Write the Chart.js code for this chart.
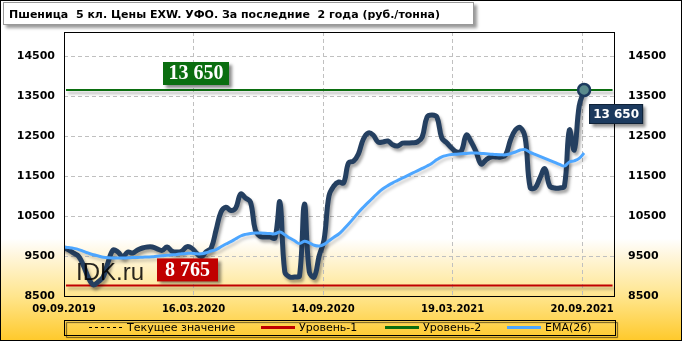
<!DOCTYPE html>
<html>
<head>
<meta charset="utf-8">
<script src="https://cdn.jsdelivr.net/npm/chart.js"></script>
<style>
  html, body { margin: 0; padding: 0; background: #fff; }
  #wrap { width: 682px; height: 341px; }
</style>
</head>
<body>
<div id="wrap"><canvas id="myChart" width="682" height="341"></canvas></div>
<script>
const chartTitle = "Пшеница  5 кл. Цены EXW. УФО. За последние  2 года (руб./тонна)";

// x axis: weeks since 09.09.2019
const dateTicks = [0, 26.4, 52.8, 79.2, 105.6];
const dateLabels = ["09.09.2019", "16.03.2020", "14.09.2020", "19.03.2021", "20.09.2021"];
const valueTicks = [8500, 9500, 10500, 11500, 12500, 13500, 14500];

// weekly price, rub/t
const price = [
  9700, 9650, 9570, 9490, 9250, 8950, 8775, 8860, 8980, 9350,
  9650, 9600, 9480, 9600, 9575, 9650, 9700, 9725, 9725, 9680,
  9640, 9725, 9620, 9600, 9620, 9730, 9700, 9570, 9480, 9610,
  9700, 10150, 10600, 10720, 10640, 10700, 11050, 10950, 10850, 10150,
  9990, 9975, 9975, 9950, 10850, 9100, 8975, 8975, 9000, 10800,
  9100, 8975, 9500, 9900, 11000, 11250, 11350, 11330, 11830, 11870,
  12050, 12420, 12575, 12525, 12350, 12350, 12375, 12280, 12250, 12320,
  12325, 12330, 12350, 12475, 12975, 13025, 12975, 12450, 12330, 12200,
  12100, 12130, 12525, 12350, 12100, 11800, 11900, 11975, 11975, 11975,
  12025, 12400, 12650, 12710, 12450, 11220, 11200, 11450, 11680, 11250,
  11200, 11200, 11250, 12650, 12150, 13250, 13650
];

// EMA(26)
const ema26 = [
  9725, 9710, 9690, 9660, 9615, 9570, 9530, 9500, 9470, 9455,
  9450, 9450, 9450, 9455, 9460, 9465, 9470, 9475, 9480, 9495,
  9505, 9520, 9530, 9540, 9555, 9565, 9570, 9555, 9555, 9580,
  9625, 9660, 9730, 9800, 9860, 9930, 10000, 10040, 10065, 10075,
  10075, 10070, 10060, 10055, 10100, 10030, 9950, 9880, 9810, 9870,
  9830, 9770, 9750, 9790, 9880, 9970, 10050, 10170, 10300, 10440,
  10590, 10720, 10840, 10960, 11080, 11180, 11260, 11330, 11390, 11450,
  11510, 11570, 11630, 11690, 11750, 11820, 11910, 11980, 12015, 12035,
  12045, 12055, 12065, 12075, 12075, 12065, 12055, 12045, 12035, 12030,
  12030, 12060, 12100, 12150, 12160, 12090, 12040, 11990, 11940, 11890,
  11840, 11790, 11750, 11850, 11880, 11940, 12075
];

const level1 = 8765;
const level2 = 13650;
const levelSpan = [0.4, 111.8];

const xMax = 112.3;
const yMin = 8500, yMax = 15100;

const lastIdx = price.length - 1;
const lastValue = price[lastIdx];

function fmt(v) {
  return String(v).replace(/\B(?=(\d{3})+(?!\d))/g, " ");
}

const bgPlugin = {
  id: "bg",
  beforeDraw(chart) {
    const ctx = chart.ctx;
    const h = chart.height;
    const g = ctx.createLinearGradient(0, 0, 0, h);
    g.addColorStop(0, "#ffffff");
    g.addColorStop(0.70, "#ffffff");
    g.addColorStop(0.75, "#fff6dc");
    g.addColorStop(0.87, "#ffe58c");
    g.addColorStop(1, "#ffc92a");
    ctx.save();
    ctx.fillStyle = g;
    ctx.fillRect(0, 0, chart.width, h);
    ctx.restore();
  }
};

const shadowPlugin = {
  id: "shadows",
  beforeDatasetDraw(chart, args) {
    const ds = chart.data.datasets[args.index];
    chart.ctx.save();
    if (ds.shadow) {
      chart.ctx.shadowColor = ds.shadow;
      chart.ctx.shadowOffsetX = 2;
      chart.ctx.shadowOffsetY = 3;
      chart.ctx.shadowBlur = 3;
    }
  },
  afterDatasetDraw(chart) {
    chart.ctx.restore();
  }
};

function box(ctx, x, y, w, h, fill, stroke, shadow) {
  ctx.save();
  if (shadow) {
    ctx.shadowColor = shadow;
    ctx.shadowOffsetX = 3;
    ctx.shadowOffsetY = 3;
    ctx.shadowBlur = 3;
  }
  ctx.fillStyle = fill;
  ctx.fillRect(x, y, w, h);
  ctx.restore();
  if (stroke) {
    ctx.strokeStyle = stroke;
    ctx.lineWidth = 1;
    ctx.strokeRect(x + 0.5, y + 0.5, w - 1, h - 1);
  }
}

const decorPlugin = {
  id: "decor",
  afterDatasetsDraw(chart) {
    const ctx = chart.ctx;
    const a = chart.chartArea;
    const ys = chart.scales.y;
    const xs = chart.scales.x;

    // plot frame
    ctx.save();
    ctx.strokeStyle = "#000";
    ctx.lineWidth = 1;
    ctx.strokeRect(Math.round(a.left) + 0.5, Math.round(a.top) + 0.5,
      Math.round(a.right - a.left) - 1, Math.round(a.bottom - a.top));
    ctx.restore();

    // watermark
    ctx.save();
    ctx.font = '24px "Liberation Sans"';
    ctx.fillStyle = "rgba(0,0,0,0.85)";
    ctx.textBaseline = "alphabetic";
    ctx.fillText("IDK.ru", 76, 280);
    ctx.restore();

    // level tags
    const y2 = ys.getPixelForValue(level2);
    box(ctx, 163, y2 - 28, 66, 23, "#0b6e10", null, "rgba(0,0,0,0.45)");
    const y1 = ys.getPixelForValue(level1);
    box(ctx, 157, y1 - 27, 61, 23, "#c00000", null, "rgba(0,0,0,0.45)");
    ctx.save();
    ctx.font = 'bold 20px "Liberation Serif"';
    ctx.fillStyle = "#fff";
    ctx.textAlign = "center";
    ctx.textBaseline = "middle";
    ctx.fillText(fmt(level2), 196, y2 - 16);
    ctx.fillText(fmt(level1), 187.5, y1 - 15);
    ctx.restore();

    // last value tag
    const px = xs.getPixelForValue(lastIdx);
    const py = ys.getPixelForValue(lastValue);
    box(ctx, px + 5, py + 14, 54, 20, "#1c3a5e", "#0f2238", "rgba(0,0,0,0.45)");
    ctx.save();
    ctx.font = 'bold 12px "DejaVu Sans"';
    ctx.fillStyle = "#fff";
    ctx.textAlign = "center";
    ctx.textBaseline = "middle";
    ctx.fillText(fmt(lastValue), px + 32, py + 24.5);
    ctx.restore();
  },
  afterDraw(chart) {
    const ctx = chart.ctx;
    // title
    box(ctx, 3, 2, 471, 23, "#fff", "#999", "rgba(0,0,0,0.4)");
    ctx.save();
    ctx.font = 'bold 11px "DejaVu Sans"';
    ctx.fillStyle = "#000";
    ctx.textBaseline = "alphabetic";
    ctx.fillText(chartTitle, 9, 18);
    ctx.restore();

    // legend
    const lx = 64, ly = 320, lw = 551, lh = 15;
    ctx.save();
    ctx.shadowColor = "rgba(0,0,0,0.6)";
    ctx.shadowOffsetX = 2;
    ctx.shadowOffsetY = 2;
    ctx.shadowBlur = 1;
    ctx.strokeStyle = "#000";
    ctx.lineWidth = 1;
    ctx.strokeRect(lx + 0.5, ly + 0.5, lw, lh);
    ctx.restore();

    const items = [
      { label: "Текущее значение", color: "#000", width: 1, dash: [3, 3], x: 89 },
      { label: "Уровень-1", color: "#c00000", width: 3, dash: [], x: 261 },
      { label: "Уровень-2", color: "#0b6e10", width: 3, dash: [], x: 385 },
      { label: "EMA(26)", color: "#4da6ff", width: 3, dash: [], x: 507 }
    ];
    const my = ly + 7.5;
    items.forEach(it => {
      ctx.save();
      ctx.strokeStyle = it.color;
      ctx.lineWidth = it.width;
      ctx.setLineDash(it.dash);
      ctx.beginPath();
      ctx.moveTo(it.x, my);
      ctx.lineTo(it.x + 34, my);
      ctx.stroke();
      ctx.restore();
      ctx.save();
      ctx.font = '11px "DejaVu Sans"';
      ctx.fillStyle = "#000";
      ctx.textBaseline = "middle";
      ctx.fillText(it.label, it.x + 38, my + 0.5);
      ctx.restore();
    });

    // outer border
    ctx.save();
    ctx.strokeStyle = "#000";
    ctx.lineWidth = 1;
    ctx.strokeRect(0.5, 0.5, chart.width - 1, chart.height - 1);
    ctx.restore();
  }
};

const tickFont = { family: "DejaVu Sans", size: 11, weight: "bold" };

const ctx = document.getElementById("myChart").getContext("2d");
new Chart(ctx, {
  type: "line",
  data: {
    datasets: [
      {
        label: "marker",
        data: [{ x: lastIdx, y: lastValue }],
        showLine: false,
        pointRadius: 6,
        pointBackgroundColor: "#5a8a8c",
        pointBorderColor: "#1c3a5e",
        pointBorderWidth: 2.5,
        order: 0
      },
      {
        label: "EMA(26)",
        data: ema26.map((v, i) => ({ x: i, y: v })),
        borderColor: "#4da6ff",
        borderWidth: 3,
        pointRadius: 0,
        tension: 0.4,
        shadow: "rgba(0,0,0,0.18)",
        order: 1
      },
      {
        label: "Текущее значение",
        data: price.map((v, i) => ({ x: i, y: v })),
        borderColor: "#243f60",
        borderWidth: 5,
        pointRadius: 0,
        tension: 0.4,
        borderJoinStyle: "round",
        borderCapStyle: "round",
        shadow: "rgba(0,0,0,0.35)",
        order: 2
      },
      {
        label: "Уровень-2",
        data: levelSpan.map(x => ({ x: x, y: level2 })),
        borderColor: "#0b6e10",
        borderWidth: 2,
        pointRadius: 0,
        shadow: "rgba(0,0,0,0.3)",
        order: 3
      },
      {
        label: "Уровень-1",
        data: levelSpan.map(x => ({ x: x, y: level1 })),
        borderColor: "#c00000",
        borderWidth: 2,
        pointRadius: 0,
        shadow: "rgba(0,0,0,0.3)",
        order: 3
      }
    ]
  },
  options: {
    responsive: false,
    animation: false,
    devicePixelRatio: 1,
    layout: { padding: { top: 32, left: 0, right: 0, bottom: 0 } },
    plugins: {
      legend: { display: false },
      title: { display: false },
      tooltip: { enabled: false }
    },
    scales: {
      x: {
        type: "linear",
        min: 0,
        max: xMax,
        afterFit(scale) { scale.height = 45; },
        afterBuildTicks(scale) { scale.ticks = dateTicks.map(v => ({ value: v })); },
        ticks: {
          font: { family: "DejaVu Sans", size: 10, weight: "bold" },
          color: "#000",
          padding: 7,
          maxRotation: 0,
          autoSkip: false,
          callback: (v, i) => dateLabels[i]
        },
        grid: {
          drawTicks: false,
          color: ctx => (ctx.tick && ctx.tick.value === 0 ? "rgba(0,0,0,0)" : "#c0c0c0"),
          lineWidth: 1
        },
        border: { display: false, dash: [4, 3] }
      },
      y: {
        position: "left",
        min: yMin,
        max: yMax,
        afterFit(scale) { scale.width = 64; },
        afterBuildTicks(scale) { scale.ticks = valueTicks.map(v => ({ value: v })); },
        ticks: { font: tickFont, color: "#000", padding: 9, callback: v => String(v) },
        grid: {
          drawTicks: false,
          color: ctx => (ctx.tick && ctx.tick.value === yMin ? "rgba(0,0,0,0)" : "#c0c0c0"),
          lineWidth: 1
        },
        border: { display: false, dash: [4, 3] }
      },
      y2: {
        position: "right",
        min: yMin,
        max: yMax,
        afterFit(scale) { scale.width = 67; },
        afterBuildTicks(scale) { scale.ticks = valueTicks.map(v => ({ value: v })); },
        ticks: { font: tickFont, color: "#000", padding: 13, callback: v => String(v) },
        grid: { display: false, drawTicks: false },
        border: { display: false }
      }
    }
  },
  plugins: [bgPlugin, shadowPlugin, decorPlugin]
});
</script>
</body>
</html>
